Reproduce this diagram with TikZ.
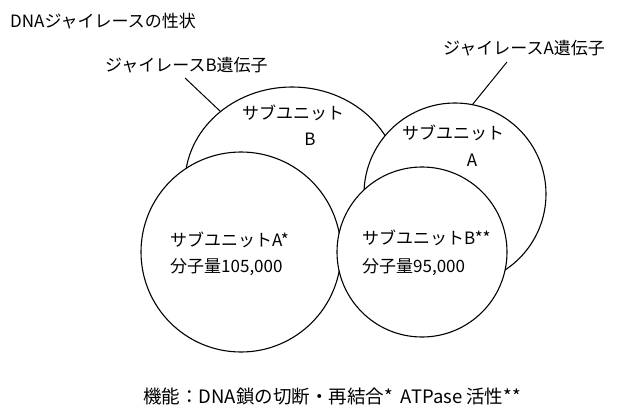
\documentclass[tikz,border=0pt]{standalone}
\usepackage{fontspec}
\usetikzlibrary{shapes.geometric}
\setmainfont{Noto Sans CJK JP}
\begin{document}
\begin{tikzpicture}[x=1pt,y=-1pt,
  ring/.style={circle,draw,fill=white,line width=1.1pt,inner sep=0pt,outer sep=0pt},
  oval/.style={ellipse,draw,fill=white,line width=1.1pt,inner sep=0pt,outer sep=0pt},
  txt/.style={inner sep=0pt,anchor=west,font=\fontsize{17}{20}\selectfont},
  bigtxt/.style={inner sep=0pt,anchor=west,font=\fontsize{18.5}{22}\selectfont},
  lead/.style={line width=1pt}]
\useasboundingbox (0,0) rectangle (619,410);
% circles, back to front
\node[oval,minimum width=214pt,minimum height=192pt] (bl) at (292,183) {};
\node[ring,minimum size=182pt] (ra) at (455,194) {};
\node[ring,minimum size=200pt] (fl) at (241,252) {};
\node[ring,minimum size=170pt] (fr) at (422,252) {};
% titles and labels
\node[txt] (title) at (10,21) {DNAジャイレースの性状};
\node[txt] (bgene) at (105,65) {ジャイレースB遺伝子};
\node[txt] (agene) at (443,48) {ジャイレースA遺伝子};
\coordinate (bstart) at (185,78);
\coordinate (astart) at (507,62);
\draw[lead] (bstart) -- (bl.135);
\draw[lead] (astart) -- (ra.79);
% texts inside circles
\node[txt] (blt1) at (242,113) {サブユニット};
\node[txt,anchor=center] (blt2) at (310,139) {B};
\node[txt] (rat1) at (402,133) {サブユニット};
\node[txt,anchor=center] (rat2) at (472,160) {A};
\node[txt] (flt1) at (170,240) {サブユニットA*};
\node[txt] (flt2) at (170,267) {分子量105,000};
\node[txt] (frt1) at (362,238) {サブユニットB**};
\node[txt] (frt2) at (362,267) {分子量95,000};
% function line
\node[bigtxt] (func) at (143,397) {機能：DNA鎖の切断・再結合*\ \ ATPase 活性**};
\end{tikzpicture}
\end{document}
